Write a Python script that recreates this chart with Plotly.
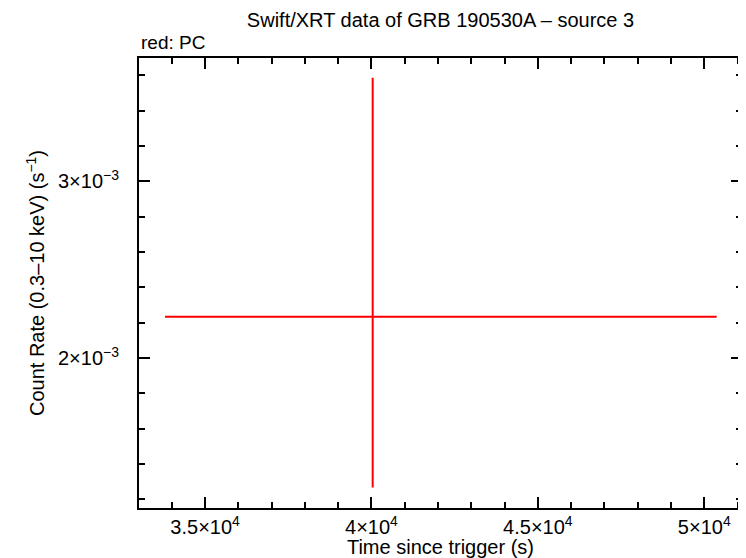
import plotly.graph_objects as go

# Data
time = [40036]
time_err_minus = [6241]
time_err_plus = [10337]
rate = [2.234e-3]
rate_err_plus = [1.353e-3]
rate_err_minus = [0.968e-3]

x_tickvals = [35000, 40000, 45000, 50000]
x_ticktext = ["3.5×10<sup>4</sup>", "4×10<sup>4</sup>", "4.5×10<sup>4</sup>", "5×10<sup>4</sup>"]
y_tickvals = [2e-3, 3e-3]
y_ticktext = ["2×10<sup>−3</sup>", "3×10<sup>−3</sup>"]

FONT = "Liberation Sans, Arial, Helvetica, sans-serif"
FS = 20

fig = go.Figure()
fig.add_trace(go.Scatter(
    x=time, y=rate, mode="markers",
    marker=dict(size=1, color="red"),
    error_x=dict(type="data", symmetric=False, array=time_err_plus, arrayminus=time_err_minus,
                 color="red", thickness=2, width=0),
    error_y=dict(type="data", symmetric=False, array=rate_err_plus, arrayminus=rate_err_minus,
                 color="red", thickness=2, width=0),
    showlegend=False, hoverinfo="skip",
))

axis_common = dict(
    showgrid=False, zeroline=False, showline=True, linecolor="black", linewidth=2,
    mirror="allticks", ticks="inside", ticklen=11, tickwidth=2, tickcolor="black",
    tickfont=dict(family=FONT, size=FS, color="black"),
)

fig.update_layout(
    width=738, height=550,
    margin=dict(l=131, r=4, t=50, b=50, autoexpand=False),
    paper_bgcolor="white", plot_bgcolor="white",
    font=dict(family=FONT, color="black"),
    title=dict(text="Swift/XRT data of GRB 190530A – source 3", x=0.5, xref="paper",
               xanchor="center", y=0.978, yref="container", yanchor="middle",
               font=dict(family=FONT, size=FS, color="black")),
    xaxis=dict(
        range=[33014, 51133], tickmode="array", tickvals=x_tickvals, ticktext=x_ticktext,
        minor=dict(dtick=1000, tick0=0, ticks="inside", ticklen=6, tickwidth=2, tickcolor="black"),
        title=dict(text="Time since trigger (s)", font=dict(family=FONT, size=FS, color="black"),
                   standoff=5),
        ticklabelstandoff=0,
        **axis_common,
    ),
    yaxis=dict(
        range=[1.150e-3, 3.699e-3], tickmode="array", tickvals=y_tickvals, ticktext=y_ticktext,
        minor=dict(dtick=0.2e-3, tick0=0, ticks="inside", ticklen=6, tickwidth=2, tickcolor="black"),
        title=dict(text="Count Rate (0.3–10 keV) (s<sup>−1</sup>)",
                   font=dict(family=FONT, size=FS, color="black"), standoff=8),
        ticklabelstandoff=14,
        **axis_common,
    ),
    annotations=[dict(text="red: PC", x=0, y=1, xref="paper", yref="paper",
                      xanchor="left", yanchor="bottom", yshift=3, showarrow=False,
                      font=dict(family=FONT, size=FS - 1, color="black"))],
)

fig.write_html("out.html")
